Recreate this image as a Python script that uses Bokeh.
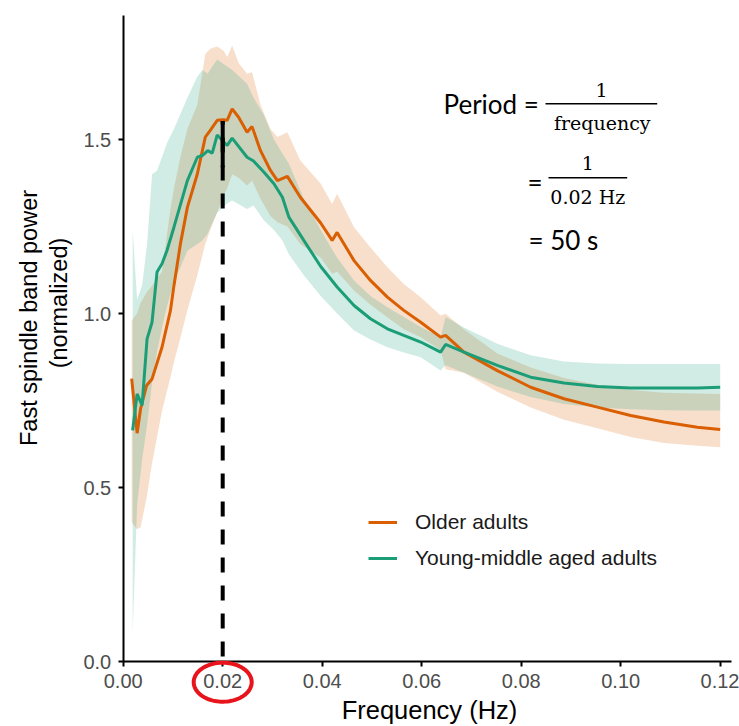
import numpy as np
from bokeh.plotting import figure
from bokeh.models import (Range1d, Label, PolyAnnotation, BoxAnnotation, FixedTicker,
                          NumeralTickFormatter, Legend, LegendItem)
from bokeh.embed import file_html
from bokeh.resources import INLINE

# ---------------- data ----------------
older_freq = [0.0017, 0.0028, 0.0035, 0.0047, 0.0058, 0.0078, 0.0095, 0.0102, 0.0115, 0.0129,
              0.0149, 0.0165, 0.0175, 0.0189, 0.0202, 0.0209, 0.0219, 0.0232, 0.0249, 0.0259,
              0.0276, 0.0296, 0.0310, 0.0330, 0.0356, 0.0397, 0.0420, 0.0430, 0.0464, 0.0497,
              0.0531, 0.0564, 0.0598, 0.0638, 0.0648, 0.0685, 0.0752, 0.0819, 0.0886, 0.0953,
              0.1020, 0.1087, 0.1154, 0.1200]
older_power = [0.813, 0.656, 0.727, 0.793, 0.812, 0.903, 1.009, 1.080, 1.200, 1.305,
               1.401, 1.507, 1.526, 1.555, 1.557, 1.555, 1.588, 1.564, 1.521, 1.537,
               1.468, 1.411, 1.382, 1.394, 1.334, 1.260, 1.210, 1.233, 1.152, 1.095,
               1.047, 1.009, 0.975, 0.932, 0.937, 0.889, 0.836, 0.788, 0.755, 0.731,
               0.707, 0.688, 0.673, 0.667]
older_lower = [0.40, 0.38, 0.386, 0.47, 0.57, 0.72, 0.817, 0.86, 0.93, 1.009,
               1.11, 1.20, 1.24, 1.29, 1.34, 1.36, 1.40, 1.39, 1.368, 1.382,
               1.33, 1.28, 1.262, 1.25, 1.20, 1.16, 1.114, 1.12, 1.066, 1.025,
               0.989, 0.955, 0.932, 0.895, 0.84, 0.83, 0.775, 0.73, 0.695, 0.67,
               0.645, 0.628, 0.62, 0.616]
older_upper = [0.98, 1.00, 1.03, 1.06, 1.08, 1.12, 1.30, 1.36, 1.45, 1.53,
               1.60, 1.746, 1.761, 1.767, 1.755, 1.737, 1.770, 1.72, 1.689, 1.693,
               1.60, 1.53, 1.507, 1.521, 1.44, 1.373, 1.315, 1.344, 1.248, 1.19,
               1.133, 1.085, 1.047, 0.994, 0.999, 0.955, 0.885, 0.845, 0.815, 0.795,
               0.78, 0.772, 0.77, 0.769]

young_freq = [0.0019, 0.0028, 0.0038, 0.0048, 0.0058, 0.0068, 0.0078, 0.0088, 0.0102, 0.0129,
              0.0149, 0.0159, 0.0170, 0.0179, 0.0189, 0.0209, 0.0219, 0.0249, 0.0262, 0.0283,
              0.0303, 0.0320, 0.0333, 0.0363, 0.0397, 0.0430, 0.0464, 0.0497, 0.0531, 0.0564,
              0.0598, 0.0638, 0.0648, 0.0685, 0.0752, 0.0819, 0.0886, 0.0953, 0.1020, 0.1087,
              0.1154, 0.1200]
young_power = [0.664, 0.769, 0.736, 0.927, 0.975, 1.119, 1.143, 1.181, 1.248, 1.382,
               1.449, 1.454, 1.468, 1.461, 1.513, 1.483, 1.504, 1.449, 1.438, 1.406,
               1.373, 1.334, 1.277, 1.210, 1.135, 1.076, 1.023, 0.985, 0.956, 0.937,
               0.918, 0.889, 0.911, 0.889, 0.851, 0.817, 0.800, 0.790, 0.786, 0.786,
               0.786, 0.788]
young_lower = [0.08, 0.45, 0.58, 0.68, 0.80, 0.89, 0.96, 1.02, 1.09, 1.18,
               1.20, 1.21, 1.23, 1.26, 1.29, 1.316, 1.325, 1.30, 1.31, 1.267,
               1.24, 1.21, 1.17, 1.11, 1.05, 1.00, 0.951, 0.925, 0.903, 0.888,
               0.874, 0.836, 0.851, 0.83, 0.79, 0.76, 0.74, 0.73, 0.725, 0.722,
               0.721, 0.721]
young_upper = [1.24, 1.04, 1.08, 1.20, 1.40, 1.41, 1.45, 1.49, 1.53, 1.62,
               1.68, 1.70, 1.69, 1.71, 1.73, 1.71, 1.70, 1.66, 1.62, 1.57,
               1.50, 1.46, 1.43, 1.33, 1.24, 1.16, 1.095, 1.05, 1.018, 0.99,
               0.961, 0.932, 0.99, 0.96, 0.913, 0.88, 0.862, 0.856, 0.855, 0.855,
               0.855, 0.855]

x_ticks = [0.0, 0.02, 0.04, 0.06, 0.08, 0.10, 0.12]
y_ticks = [0.0, 0.5, 1.0, 1.5]
series_labels = ["Older adults", "Young-middle aged adults"]
x_title = "Frequency (Hz)"
y_title = ["Fast spindle band power", "(normalized)"]

highlight_freq = 0.02      # marked frequency (Hz)
highlight_top = 1.553      # dashed line reaches the curves' peak
solid_from = 1.42          # upper part of the marker line is solid

# ---------------- styling / geometry ----------------
ORANGE = "#d95f02"
GREEN = "#1b9e77"
RED = "#e8141b"
W, H = 739, 726
X0_PX, X_SCALE = 122.7, 4975.0      # pixel of x=0, pixels per Hz
Y0_PX, Y_SCALE = 661.0, 348.0       # pixel of y=0, pixels per unit
X_AXIS_END, Y_AXIS_END = 0.1222, 1.856
BASE_SHIFT = 0.37                   # label anchor sits this many em above the baseline

x_range = Range1d(-X0_PX / X_SCALE, (W - X0_PX) / X_SCALE)
y_range = Range1d((Y0_PX - H) / Y_SCALE, Y0_PX / Y_SCALE)

p = figure(width=W, height=H, x_range=x_range, y_range=y_range,
           output_backend="svg", toolbar_location=None,
           min_border_left=0, min_border_right=0, min_border_top=0, min_border_bottom=0)
p.grid.visible = False
p.outline_line_color = None
p.background_fill_color = "white"
p.border_fill_color = "white"

p.varea(x=older_freq, y1=older_lower, y2=older_upper, fill_color=ORANGE, fill_alpha=0.2)
p.varea(x=young_freq, y1=young_lower, y2=young_upper, fill_color=GREEN, fill_alpha=0.2)
r_old = p.line(older_freq, older_power, line_color=ORANGE, line_width=3)
r_young = p.line(young_freq, young_power, line_color=GREEN, line_width=3)

p.segment(x0=[highlight_freq], y0=[0], x1=[highlight_freq], y1=[highlight_top],
          line_color="black", line_width=4, line_dash="15 13", line_dash_offset=23)
p.segment(x0=[highlight_freq], y0=[solid_from], x1=[highlight_freq], y1=[highlight_top],
          line_color="black", line_width=4)

# axes, placed at the data origin
p.xaxis.ticker = FixedTicker(ticks=x_ticks)
p.xaxis.formatter = NumeralTickFormatter(format="0.00")
p.yaxis.ticker = FixedTicker(ticks=y_ticks)
p.yaxis.formatter = NumeralTickFormatter(format="0.0")
p.xaxis.fixed_location = 0
p.yaxis.fixed_location = 0
p.xaxis.bounds = (0, X_AXIS_END)
p.yaxis.bounds = (0, Y_AXIS_END)
for ax in (p.xaxis[0], p.yaxis[0]):
    ax.axis_line_color = "black"
    ax.axis_line_width = 2
    ax.major_tick_line_color = "black"
    ax.major_tick_line_width = 2
    ax.major_tick_out = 5
    ax.major_tick_in = 0
    ax.minor_tick_line_color = None
    ax.major_label_text_font = "Liberation Sans"
    ax.major_label_text_font_size = "20px"
    ax.major_label_text_color = "#4d4d4d"
p.xaxis.major_label_standoff = 7
p.yaxis.major_label_standoff = 7


def sy(py):
    return H - py


def text_label(x, base_y, text, font, size, align="left"):
    """Horizontal text whose baseline sits at image row base_y."""
    anchor = base_y - BASE_SHIFT * size
    p.add_layout(Label(x=x, y=sy(anchor), x_units="screen", y_units="screen", text=text,
                       text_align=align, text_baseline="alphabetic", text_font=font,
                       text_font_size=f"{size}px", text_color="black"))


def vtext_label(base_x, cy, text, font, size):
    """Text rotated 90 deg whose baseline sits at image column base_x."""
    anchor = base_x - BASE_SHIFT * size
    p.add_layout(Label(x=anchor, y=sy(cy), x_units="screen", y_units="screen", angle=np.pi / 2,
                       text=text, text_align="center", text_baseline="alphabetic",
                       text_font=font, text_font_size=f"{size}px", text_color="black"))


# axis titles
text_label(429, 719, x_title, "Liberation Sans", 25.5, "center")
vtext_label(37.3, 317.5, y_title[0], "Liberation Sans", 23.5)
vtext_label(66.7, 302.5, y_title[1], "Liberation Sans", 23.5)

# legend
legend = Legend(items=[LegendItem(label=series_labels[0], renderers=[r_old]),
                       LegendItem(label=series_labels[1], renderers=[r_young])],
                location=(368, sy(570)), orientation="vertical", glyph_width=29, glyph_height=24,
                label_height=24, label_standoff=18, spacing=12, padding=0, margin=0,
                border_line_color=None, background_fill_alpha=0,
                label_text_font="Liberation Sans", label_text_font_size="21px",
                label_text_color="#1a1a1a")
p.add_layout(legend)


def bar(left, right, y):
    p.add_layout(BoxAnnotation(left=left, right=right, bottom=sy(y) - 0.7, top=sy(y) + 0.7,
                               left_units="screen", right_units="screen",
                               bottom_units="screen", top_units="screen",
                               fill_color="black", fill_alpha=1, line_color=None))


# formula annotation
text_label(443, 113, "Period =", "Lato", 26)
bar(545, 656.7, 103.3)
text_label(601, 96.7, "1", "DejaVu Serif", 19, "center")
text_label(601.7, 129.3, "frequency", "DejaVu Serif", 19, "center")
text_label(527, 191.5, "=", "Lato", 26)
bar(548, 626.7, 177.3)
text_label(587.3, 170, "1", "DejaVu Serif", 19, "center")
text_label(587.3, 203.3, "0.02 Hz", "DejaVu Serif", 19, "center")
text_label(528, 249, "= 50 s", "Lato", 26)

# red ellipse around the highlighted tick label
t = np.linspace(0, 2 * np.pi, 90)
cx = X0_PX + highlight_freq * X_SCALE
cy = sy(681.7)
p.add_layout(PolyAnnotation(xs=list(cx + 29 * np.cos(t)), ys=list(cy + 19.5 * np.sin(t)),
                            xs_units="screen", ys_units="screen",
                            fill_alpha=0, line_color=RED, line_alpha=1, line_width=4))

open("out.html", "w").write(file_html(p, INLINE))
